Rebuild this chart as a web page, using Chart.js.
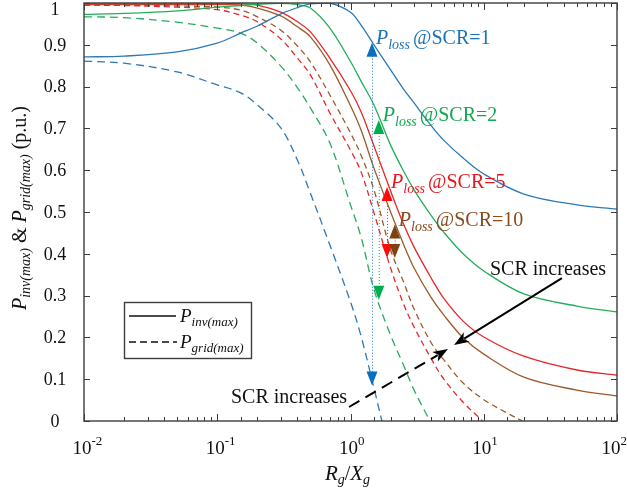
<!DOCTYPE html>
<html><head><meta charset="utf-8">
<script src="https://cdn.jsdelivr.net/npm/chart.js@4"></script>
<style>html,body{margin:0;padding:0;background:#fff}#wrap{width:627px;height:495px;position:relative}</style>
</head><body><div id="wrap"><canvas id="c" width="627" height="495"></canvas></div>
<script>
// ---- data ----
const xGrid = [0.01,0.02,0.05,0.1,0.15,0.2,0.3,0.4,0.5,0.7,1,1.2,1.5,2,2.5,3,4,5,7,10,20,50,100];
const pInv1  = [.871,.873,.883,.904,.928,.945,.974,.989,.998,1.0,.978,.947,.900,.840,.794,.761,.708,.672,.629,.591,.543,.517,.507];
const pInv2  = [.973,.975,.981,.990,.994,.997,.999,.996,.988,.940,.860,.813,.756,.660,.598,.553,.493,.452,.400,.359,.304,.275,.261];
const pInv5  = [.998,.998,.998,.998,.998,.995,.978,.955,.931,.868,.790,.740,.658,.550,.471,.416,.344,.294,.239,.201,.155,.122,.110];
const pInv10 = [.996,.996,.996,.996,.995,.988,.969,.943,.919,.852,.754,.696,.605,.500,.423,.366,.297,.254,.199,.160,.105,.074,.060];

const xGrid1 = [0.01,0.02,0.05,0.1,0.15,0.2,0.3,0.4,0.5,0.7,1,1.2,1.5,1.72];
const pGrid1 = [.861,.856,.835,.804,.785,.756,.701,.624,.545,.421,.285,.203,.079,0];
const xGrid2 = [0.01,0.02,0.05,0.1,0.15,0.2,0.3,0.4,0.5,0.7,1,1.2,1.5,2,2.5,3,3.95];
const pGrid2 = [.967,.965,.954,.940,.928,.904,.849,.797,.749,.665,.517,.440,.315,.205,.134,.074,0];
const xGrid5 = [0.01,0.02,0.05,0.1,0.15,0.2,0.3,0.4,0.5,0.7,1,1.2,1.5,2,2.5,3,4,5,7,9.8];
const pGrid5 = [.995,.994,.990,.984,.971,.955,.914,.868,.828,.737,.648,.596,.498,.366,.280,.225,.151,.101,.045,0];
const xGrid10 = [0.01,0.02,0.05,0.1,0.15,0.2,0.3,0.4,0.5,0.7,1,1.2,1.5,2,2.5,3,4,5,7,10,15,19.5];
const pGrid10 = [.995,.995,.993,.990,.983,.967,.935,.897,.859,.780,.689,.636,.553,.409,.333,.268,.189,.147,.091,.051,.019,0];

const yTickValues = [0,0.1,0.2,0.3,0.4,0.5,0.6,0.7,0.8,0.9,1];
const xTickExps = [-2,-1,0,1,2];

const lossSCR    = ['1','2','5','10'];
const lossX      = [1.45,1.63,1.88,2.15];
const lossTop    = [0.905,0.72,0.56,0.47];
const lossBottom = [0.085,0.29,0.39,0.39];

const arrowSolid  = [[38.6,0.342],[5.98,0.182]];
const arrowDashed = [[0.975,0.0335],[5.39,0.172]];

// ---- styles ----
const SERIF = '"Liberation Serif","Times New Roman",serif';
const lineCol = ['#2a7ab9','#25ad5c','#e8262a','#9c5a2a'];
const textCol = ['#1b72b8','#13a850','#e8161b','#8a4b1c'];
const triCol  = ['#0b6fc0','#00ad4e','#ff0a0a','#7d4212'];

function pts(xs, ys){ return xs.map((x,i)=>({x:x,y:ys[i]})); }
function ds(data, ci, dashed, dash){
  return {data:data, borderColor:lineCol[ci], borderWidth:1.3, pointRadius:0,
    borderDash: dashed ? dash : [], tension:0.35, fill:false};
}

function rich(ctx, x, y, parts, align){
  let w = 0;
  parts.forEach(p=>{ctx.font=p.f; p.w=ctx.measureText(p.t).width; w+=p.w+(p.gap||0);});
  let cx = align==='center' ? x-w/2 : x;
  ctx.textAlign='left'; ctx.textBaseline='alphabetic';
  parts.forEach(p=>{ctx.font=p.f; ctx.fillText(p.t,cx,y+(p.dy||0)); cx+=p.w+(p.gap||0);});
}
function arrow(ctx,x1,y1,x2,y2,dash){
  const a=Math.atan2(y2-y1,x2-x1), L=15, W=5.5;
  const bx=x2-L*Math.cos(a), by=y2-L*Math.sin(a);
  ctx.setLineDash(dash||[]); ctx.beginPath(); ctx.moveTo(x1,y1); ctx.lineTo(bx+3*Math.cos(a),by+3*Math.sin(a)); ctx.stroke(); ctx.setLineDash([]);
  ctx.beginPath(); ctx.moveTo(x2,y2);
  ctx.lineTo(bx-W*Math.sin(a),by+W*Math.cos(a));
  ctx.lineTo(bx+4*Math.cos(a),by+4*Math.sin(a));
  ctx.lineTo(bx+W*Math.sin(a),by-W*Math.cos(a));
  ctx.closePath(); ctx.fill();
}

const decor = {
  id:'decor',
  afterDatasetsDraw(chart){
    const ctx=chart.ctx, xs=chart.scales.x, ys=chart.scales.y, A=chart.chartArea;
    const IT=s=>'italic '+s+'px '+SERIF, RM=s=>s+'px '+SERIF;
    ctx.save();
    // frame
    ctx.strokeStyle='#3d3d3d'; ctx.lineWidth=1.4;
    ctx.strokeRect(A.left,A.top,A.right-A.left,A.bottom-A.top);
    // y ticks (inward, both sides) + labels
    ctx.lineWidth=1;
    yTickValues.forEach(v=>{
      const py=Math.round(ys.getPixelForValue(v))+0.5;
      ctx.beginPath(); ctx.moveTo(A.left,py); ctx.lineTo(A.left+6,py);
      ctx.moveTo(A.right,py); ctx.lineTo(A.right-6,py); ctx.stroke();
    });
    ctx.fillStyle='#111'; ctx.font=RM(18); ctx.textAlign='center'; ctx.textBaseline='middle';
    yTickValues.forEach(v=>{
      const py=Math.max(ys.getPixelForValue(v),9);
      ctx.fillText(String(+v.toFixed(1)),A.left-29,py+1);
    });
    // x ticks from log scale
    xs.ticks.forEach(t=>{
      const v=t.value; const lg=Math.log10(v);
      const major=Math.abs(lg-Math.round(lg))<1e-6;
      const px=Math.round(xs.getPixelForValue(v))+0.5;
      const L=major?7:4;
      ctx.beginPath(); ctx.moveTo(px,A.bottom); ctx.lineTo(px,A.bottom-L);
      ctx.moveTo(px,A.top); ctx.lineTo(px,A.top+L); ctx.stroke();
    });
    // x tick labels
    xTickExps.forEach(e=>{
      const px=xs.getPixelForValue(Math.pow(10,e));
      ctx.font=RM(19); const w10=ctx.measureText('10').width;
      ctx.font=RM(13); const we=ctx.measureText(String(e)).width;
      let left=px-w10/2-2;
      if (left+w10+we>chart.width) left=chart.width-w10-we;
      ctx.textAlign='left'; ctx.textBaseline='alphabetic';
      ctx.font=RM(19); ctx.fillText('10',left,A.bottom+33);
      ctx.font=RM(13); ctx.fillText(String(e),left+w10,A.bottom+24);
    });
    // x title
    rich(ctx,(A.left+A.right)/2-3,A.bottom+59,[
      {t:'R',f:IT(21)},{t:'g',f:IT(14),dy:4},{t:'/',f:RM(20)},{t:'X',f:IT(21)},{t:'g',f:IT(14),dy:4}],'center');
    // y title
    ctx.save(); ctx.translate(26,208); ctx.rotate(-Math.PI/2);
    rich(ctx,0,0,[
      {t:'P',f:IT(20)},{t:'inv(max)',f:IT(14),dy:4},{t:' & ',f:RM(20)},
      {t:'P',f:IT(20)},{t:'grid(max)',f:IT(14),dy:4},{t:' (p.u.)',f:RM(20)}],'center');
    ctx.restore();
    // legend
    ctx.strokeStyle='#3d3d3d'; ctx.lineWidth=1.4;
    ctx.strokeRect(124.5,302.5,127,56);
    ctx.strokeStyle='#111'; ctx.lineWidth=1.3;
    ctx.beginPath(); ctx.moveTo(129,316); ctx.lineTo(176,316); ctx.stroke();
    ctx.setLineDash([7,4]); ctx.beginPath(); ctx.moveTo(129,342); ctx.lineTo(177,342); ctx.stroke(); ctx.setLineDash([]);
    ctx.fillStyle='#111';
    rich(ctx,180,322,[{t:'P',f:IT(19)},{t:'inv(max)',f:IT(13),dy:4}]);
    rich(ctx,180,348,[{t:'P',f:IT(19)},{t:'grid(max)',f:IT(13),dy:4}]);
    // SCR increases labels and arrows
    ctx.font=RM(20); ctx.textAlign='left';
    ctx.fillText('SCR increases',490,275);
    ctx.fillText('SCR increases',231,403);
    ctx.strokeStyle='#000'; ctx.fillStyle='#000'; ctx.lineWidth=2;
    const P=p=>[xs.getPixelForValue(p[0]),ys.getPixelForValue(p[1])];
    let s=P(arrowSolid[0]), e=P(arrowSolid[1]);
    arrow(ctx,s[0],s[1],e[0],e[1]);
    s=P(arrowDashed[0]); e=P(arrowDashed[1]);
    arrow(ctx,s[0],s[1],e[0],e[1],[12,7]);
    // P_loss markers
    lossX.forEach((xv,i)=>{
      const px=xs.getPixelForValue(xv), pt=ys.getPixelForValue(lossTop[i]), pb=ys.getPixelForValue(lossBottom[i]);
      ctx.strokeStyle=lineCol[i]; ctx.lineWidth=1; ctx.setLineDash([1,2]);
      ctx.beginPath(); ctx.moveTo(px+0.5,pt+10); ctx.lineTo(px+0.5,pb-10); ctx.stroke(); ctx.setLineDash([]);
      ctx.fillStyle=triCol[i];
      ctx.beginPath(); ctx.moveTo(px,pt); ctx.lineTo(px-5.5,pt+14); ctx.lineTo(px+5.5,pt+14); ctx.closePath(); ctx.fill();
      ctx.beginPath(); ctx.moveTo(px,pb); ctx.lineTo(px-5.5,pb-14); ctx.lineTo(px+5.5,pb-14); ctx.closePath(); ctx.fill();
      ctx.fillStyle=textCol[i];
      rich(ctx,px+4,pt+1,[{t:'P',f:IT(20)},{t:'loss',f:IT(14),dy:5,gap:3},{t:'@SCR='+lossSCR[i],f:RM(20)}]);
    });
    ctx.restore();
  }
};

new Chart(document.getElementById('c'),{
  type:'line',
  data:{datasets:[
    ds(pts(xGrid,pInv1),0,false),
    ds(pts(xGrid,pInv2),1,false),
    ds(pts(xGrid,pInv5),2,false),
    ds(pts(xGrid,pInv10),3,false),
    ds(pts(xGrid1,pGrid1),0,true,[8,5]),
    ds(pts(xGrid2,pGrid2),1,true,[8,5]),
    ds(pts(xGrid5,pGrid5),2,true,[6,4]),
    ds(pts(xGrid10,pGrid10),3,true,[6,4])
  ]},
  options:{
    responsive:false, animation:false, devicePixelRatio:1,
    layout:{padding:{left:0,top:3,right:10,bottom:0}},
    plugins:{legend:{display:false},tooltip:{enabled:false}},
    scales:{
      x:{type:'logarithmic',min:0.01,max:100,
        grid:{display:false,drawTicks:false},border:{display:false},
        ticks:{display:false},
        afterFit(s){s.height=74;s.paddingLeft=0;s.paddingRight=0;s.paddingTop=0;s.paddingBottom=0;}},
      y:{type:'linear',min:0,max:1,
        grid:{display:false,drawTicks:false},border:{display:false},
        ticks:{display:false,stepSize:0.1},
        afterFit(s){s.width=84;s.paddingTop=0;s.paddingBottom=0;s.paddingLeft=0;s.paddingRight=0;}}
    }
  },
  plugins:[decor]
});
</script></body></html>
